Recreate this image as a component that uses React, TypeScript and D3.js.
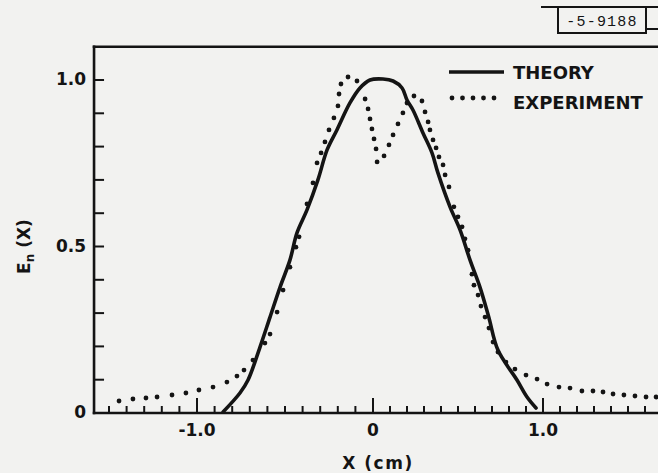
import React from 'react';
import * as d3 from 'd3';

// theory curve (solid)
const theoryX = [-0.852, -0.756, -0.71, -0.642, -0.585, -0.528, -0.472, -0.432, -0.375, -0.313, -0.261, -0.205, -0.131, -0.074, -0.017, 0.059, 0.118, 0.171, 0.2, 0.235, 0.294, 0.347, 0.382, 0.453, 0.512, 0.571, 0.629, 0.68, 0.735, 0.847, 0.906, 0.959];
const theoryY = [0.003, 0.06, 0.099, 0.198, 0.288, 0.378, 0.459, 0.541, 0.61, 0.7, 0.79, 0.85, 0.931, 0.976, 1.0, 1.003, 0.997, 0.976, 0.94, 0.91, 0.841, 0.781, 0.721, 0.619, 0.55, 0.459, 0.378, 0.29, 0.189, 0.099, 0.048, 0.015];

// experiment (dots)
const expX = [-1.443, -1.364, -1.29, -1.227, -1.142, -1.063, -0.989, -0.909, -0.83, -0.773, -0.733, -0.682, -0.614, -0.585, -0.545, -0.511, -0.472, -0.438, -0.42, -0.375, -0.341, -0.318, -0.295, -0.273, -0.25, -0.222, -0.199, -0.193, -0.182, -0.142, -0.091, -0.045, -0.028, -0.017, -0.006, 0.006, 0.018, 0.024, 0.065, 0.094, 0.118, 0.147, 0.176, 0.2, 0.241, 0.288, 0.306, 0.324, 0.335, 0.353, 0.371, 0.388, 0.412, 0.424, 0.447, 0.476, 0.5, 0.524, 0.541, 0.559, 0.582, 0.594, 0.618, 0.635, 0.659, 0.682, 0.706, 0.735, 0.782, 0.835, 0.9, 0.965, 1.024, 1.094, 1.159, 1.229, 1.294, 1.353, 1.412, 1.476, 1.541, 1.606, 1.665];
const expY = [0.036, 0.042, 0.045, 0.048, 0.054, 0.06, 0.069, 0.078, 0.093, 0.111, 0.129, 0.159, 0.21, 0.237, 0.303, 0.369, 0.438, 0.498, 0.529, 0.628, 0.691, 0.751, 0.781, 0.814, 0.85, 0.886, 0.922, 0.958, 0.988, 1.009, 0.997, 0.943, 0.913, 0.883, 0.853, 0.823, 0.793, 0.754, 0.772, 0.805, 0.835, 0.868, 0.901, 0.931, 0.952, 0.937, 0.904, 0.874, 0.85, 0.82, 0.796, 0.769, 0.745, 0.715, 0.679, 0.619, 0.589, 0.559, 0.523, 0.489, 0.417, 0.384, 0.354, 0.321, 0.288, 0.255, 0.213, 0.183, 0.153, 0.132, 0.114, 0.102, 0.087, 0.078, 0.075, 0.066, 0.066, 0.063, 0.057, 0.054, 0.051, 0.048, 0.048];

const xLabelValues = [-1, 0, 1];
const xLabels = ['-1.0', '0', '1.0'];
const yLabelValues = [0, 0.5, 1];
const yLabels = ['0', '0.5', '1.0'];
const legendNames = ['THEORY', 'EXPERIMENT'];
const stampText = '-5-9188';

const xLeft = -1.585;
const xRight = 1.7;
const yTop = 1.1;

const ink = '#141414';
const font = "'DejaVu Sans', sans-serif";

export default function App() {
  const W = 658;
  const H = 473;
  const x = d3.scaleLinear().domain([-1, 0, 1]).range([197, 373, 543]);
  const y = d3.scaleLinear().domain([0, 1]).range([413, 80]);

  const theory = theoryX.map((v, i) => [v, theoryY[i]] as [number, number]);
  const line = d3
    .line<[number, number]>()
    .x(d => x(d[0]))
    .y(d => y(d[1]))
    .curve(d3.curveCatmullRom.alpha(0.5));

  const xTicks = d3.range(-15, 17).map(i => i / 10);
  const yTicks = d3.range(1, 11).map(i => i / 10);

  const x0 = x(xLeft);
  const x1 = x(xRight);
  const yb = y(0);
  const yt = y(yTop);

  return (
    <svg
      width={W}
      height={H}
      style={{ position: 'absolute', left: 0, top: 0, display: 'block', background: '#f2f2f0' }}
      fontFamily={font}
      fontWeight="bold"
    >
      {/* stamp */}
      <g stroke={ink} strokeWidth={2} fill="none">
        <line x1={541} x2={W} y1={7} y2={7} />
        <rect x={558} y={7} width={88} height={26} />
        <line x1={646} x2={W} y1={29} y2={29} />
      </g>
      <text x={602} y={26} textAnchor="middle" fontFamily="'Liberation Mono', monospace" fontWeight="normal" fontSize={15} letterSpacing={1.2} fill={ink}>
        {stampText}
      </text>

      {/* frame */}
      <g stroke={ink} strokeWidth={2.6} fill="none" strokeLinecap="square">
        <line x1={x0} x2={x1} y1={yt} y2={yt} />
        <line x1={x0} x2={x0} y1={yt} y2={yb} />
        <line x1={x0} x2={x1} y1={yb} y2={yb} />
      </g>

      {/* x ticks */}
      <g stroke={ink} strokeWidth={2}>
        {xTicks.map(v => {
          const major = Math.abs(v - Math.round(v)) < 1e-6;
          return <line key={v} x1={x(v)} x2={x(v)} y1={yb} y2={yb - (major ? 15 : 7)} />;
        })}
      </g>
      {/* y ticks */}
      <g stroke={ink} strokeWidth={2}>
        {yTicks.map(v => (
          <line key={v} x1={x0} x2={x0 + 10} y1={y(v)} y2={y(v)} />
        ))}
      </g>

      {/* tick labels */}
      <g fontSize={17} fill={ink}>
        {xLabelValues.map((v, i) => (
          <text key={v} x={x(v)} y={yb + 23} textAnchor="middle">
            {xLabels[i]}
          </text>
        ))}
        {yLabelValues.map((v, i) => (
          <text key={v} x={x0 - 8} y={y(v) + 5} textAnchor="end">
            {yLabels[i]}
          </text>
        ))}
      </g>

      {/* axis titles */}
      <text x={x(0) + 5} y={469} textAnchor="middle" fontSize={17} fill={ink} letterSpacing={1.5}>
        X (cm)
      </text>
      <text transform={`translate(30,${y(0.5)}) rotate(-90)`} textAnchor="middle" fontSize={17} fill={ink}>
        E<tspan fontSize={12} dy={4}>n</tspan>
        <tspan dy={-4}> (X)</tspan>
      </text>

      {/* theory */}
      <path d={line(theory) || ''} fill="none" stroke={ink} strokeWidth={3.6} strokeLinejoin="round" strokeLinecap="round" />

      {/* experiment dots */}
      <g fill={ink}>
        {expX.map((v, i) => (
          <circle key={i} cx={x(v)} cy={y(expY[i])} r={2.4} />
        ))}
      </g>

      {/* legend */}
      <line x1={449} x2={504} y1={72} y2={72} stroke={ink} strokeWidth={3.6} />
      {d3.range(5).map(i => (
        <circle key={i} cx={452 + i * 10.5} cy={98} r={2.4} fill={ink} />
      ))}
      <g fontSize={18} fill={ink}>
        <text x={513} y={79}>{legendNames[0]}</text>
        <text x={513} y={109}>{legendNames[1]}</text>
      </g>
    </svg>
  );
}
